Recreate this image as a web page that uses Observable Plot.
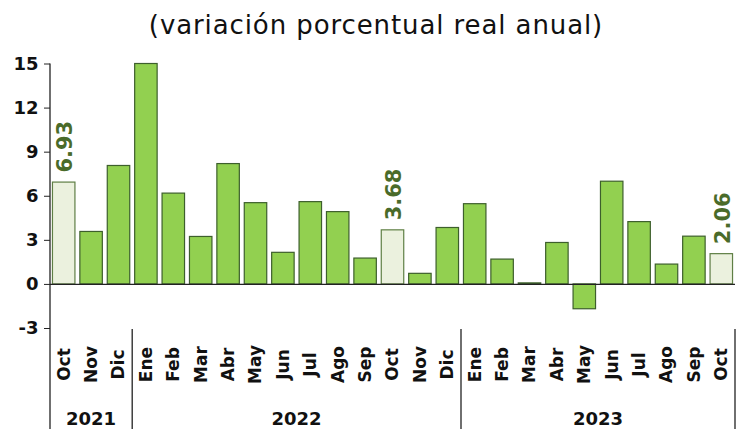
<!DOCTYPE html>
<html>
<head>
<meta charset="utf-8">
<script src="https://cdn.jsdelivr.net/npm/d3@7"></script>
<script src="https://cdn.jsdelivr.net/npm/@observablehq/plot@0.6"></script>
<style>
  html, body { margin: 0; padding: 0; background: #fff; }
  #title { width: 728px; padding-left: 12px; height: 44px; line-height: 50px; text-align: center;
    font-family: "DejaVu Sans", sans-serif; font-size: 26px; letter-spacing: 0.9px; color: #111; }
  #chart svg { display: block; }
</style>
</head>
<body>
<div id="title">(variación porcentual real anual)</div>
<div id="chart"></div>
<script>
const months = ["Oct","Nov","Dic","Ene","Feb","Mar","Abr","May","Jun","Jul","Ago","Sep",
                "Oct","Nov","Dic","Ene","Feb","Mar","Abr","May","Jun","Jul","Ago","Sep","Oct"];
const years = ["2021","2021","2021",
               "2022","2022","2022","2022","2022","2022","2022","2022","2022","2022","2022","2022",
               "2023","2023","2023","2023","2023","2023","2023","2023","2023","2023"];
const values = [6.93,3.57,8.06,15.0,6.18,3.23,8.19,5.53,2.15,5.6,4.92,1.76,
                3.68,0.72,3.84,5.46,1.69,0.07,2.82,-1.69,6.99,4.24,1.35,3.25,2.06];
const labeled = [true,false,false,false,false,false,false,false,false,false,false,false,
                 true,false,false,false,false,false,false,false,false,false,false,false,true];
const yTicks = [-3,0,3,6,9,12,15];
const yearGroups = ["2021","2022","2023"];

const data = months.map((m, i) => ({
  key: years[i] + "-" + m, month: m, year: years[i], value: values[i], labeled: labeled[i]
}));
const keys = data.map(d => d.key);

const font = "'DejaVu Sans', sans-serif";
const dark = "#222";

function groupsMark(index, scales, values, dims) {
  const x = scales.x;
  const step = x(keys[1]) - x(keys[0]);
  const bw = typeof x.bandwidth === "function" ? x.bandwidth() : step * 0.82;
  const gap = (step - bw) / 2;
  const g = d3.create("svg:g");
  const bottomFrame = dims.height - dims.marginBottom;
  g.append("line").attr("x1", dims.marginLeft).attr("x2", dims.marginLeft)
    .attr("y1", dims.marginTop).attr("y2", dims.height)
    .attr("stroke", dark).attr("stroke-width", 1.3);
  const bounds = [];
  for (const yr of yearGroups) {
    const ks = data.filter(d => d.year === yr).map(d => d.key);
    const x0 = x(ks[0]) - gap;
    const x1 = x(ks[ks.length - 1]) + bw + gap;
    if (yr !== yearGroups[0]) bounds.push(x0);
    if (yr === yearGroups[yearGroups.length - 1]) bounds.push(x1);
    g.append("text").attr("x", (x0 + x1) / 2).attr("y", dims.height - 4)
      .attr("text-anchor", "middle").attr("font-family", font)
      .attr("font-weight", "bold").attr("font-size", 18).attr("fill", "#111").text(yr);
  }
  for (const b of bounds) {
    g.append("line").attr("x1", b).attr("x2", b)
      .attr("y1", bottomFrame + 1).attr("y2", dims.height)
      .attr("stroke", dark).attr("stroke-width", 1.3);
  }
  return g.node();
}

const chart = Plot.plot({
  width: 740,
  height: 385,
  marginLeft: 50,
  marginRight: 5,
  marginTop: 19.5,
  marginBottom: 101,
  style: { fontFamily: font, background: "#fff" },
  x: { domain: keys, paddingInner: 0.18, paddingOuter: 0.09, round: false, axis: null },
  y: { domain: [-3, 15], axis: null },
  marks: [
    Plot.barY(data, {
      x: "key", y: "value",
      fill: d => d.labeled ? "#EBF1DE" : "#92D050",
      stroke: d => d.labeled ? "#5f7f45" : "#3d5f2c",
      strokeWidth: 1.2
    }),
    Plot.ruleY([0], { stroke: dark, strokeWidth: 1.4 }),
    Plot.axisY({
      ticks: yTicks, tickSize: 6, tickPadding: 6, tickFormat: d => String(d), label: null,
      fontSize: 18, fontWeight: "bold", stroke: dark, fill: "#111"
    }),
    Plot.text(data, {
      x: "key", frameAnchor: "bottom", lineAnchor: "middle", dy: 36, rotate: -90, text: "month",
      textAnchor: "middle", fontSize: 17, fontWeight: "bold", fill: "#111"
    }),
    Plot.text(data.filter(d => d.labeled), {
      x: "key", y: "value", text: d => d.value.toFixed(2), rotate: -90, lineAnchor: "middle",
      textAnchor: "start", dy: -10, dx: 1, fontSize: 21, fontWeight: "bold", fill: "#4a6b2a"
    }),
    groupsMark
  ]
});
document.getElementById("chart").appendChild(chart);
</script>
</body>
</html>
